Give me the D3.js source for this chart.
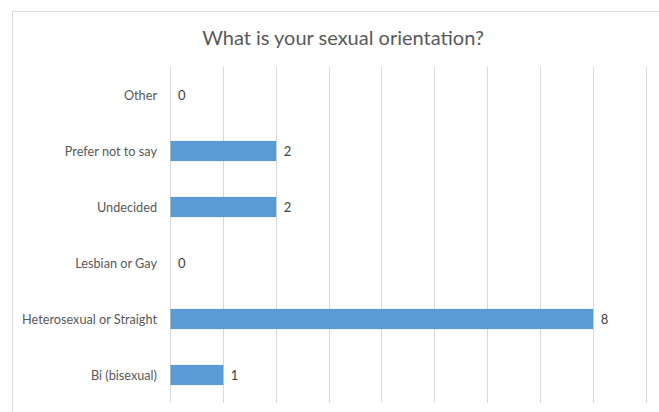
<!DOCTYPE html>
<html>
<head>
<meta charset="utf-8">
<script src="https://cdn.jsdelivr.net/npm/d3@7"></script>
<style>
  html, body { margin: 0; padding: 0; background: #fff; }
  svg { display: block; }
  text { font-family: Lato, "Open Sans", sans-serif; }
</style>
</head>
<body>
<svg id="chart" width="659" height="412"></svg>
<script>
// Survey responses, listed top to bottom as shown
const categories = ["Other", "Prefer not to say", "Undecided", "Lesbian or Gay", "Heterosexual or Straight", "Bi (bisexual)"];
const counts = [0, 2, 2, 0, 8, 1];
const xTicks = [0, 1, 2, 3, 4, 5, 6, 7, 8, 9];
const title = "What is your sexual orientation?";

const svg = d3.select("#chart");
const W = 659, H = 412;

// Chart frame
svg.append("rect")
  .attr("x", 12.5).attr("y", 11.5)
  .attr("width", W + 10).attr("height", H + 10)
  .attr("fill", "#fff").attr("stroke", "#d9d9d9").attr("stroke-width", 1);

const plot = { left: 170, right: 645.5, top: 67, bottom: 403 };

const x = d3.scaleLinear().domain([0, 9]).range([plot.left, plot.right]);
const y = d3.scaleBand().domain(categories).range([plot.top, plot.bottom]).paddingInner(0.64).paddingOuter(0.32);

// Vertical gridlines
svg.append("g")
  .selectAll("line")
  .data(xTicks)
  .join("line")
  .attr("x1", d => Math.round(x(d)) + 0.5).attr("x2", d => Math.round(x(d)) + 0.5)
  .attr("y1", plot.top).attr("y2", plot.bottom)
  .attr("stroke", "#d9d9d9").attr("stroke-width", 1);

// Bars
svg.append("g")
  .selectAll("rect")
  .data(categories)
  .join("rect")
  .attr("x", x(0) + 0.5)
  .attr("y", d => y(d))
  .attr("width", (d, i) => x(counts[i]) - x(0))
  .attr("height", y.bandwidth())
  .attr("fill", "#5b9bd5");

// Value labels
svg.append("g")
  .selectAll("text")
  .data(categories)
  .join("text")
  .attr("x", (d, i) => x(counts[i]) + 8)
  .attr("y", d => y(d) + y.bandwidth() / 2)
  .attr("dy", "0.36em")
  .attr("font-size", 13)
  .attr("fill", "#404040")
  .text((d, i) => counts[i]);

// Category axis labels
svg.append("g")
  .selectAll("text")
  .data(categories)
  .join("text")
  .attr("x", 157)
  .attr("y", d => y(d) + y.bandwidth() / 2)
  .attr("dy", "0.36em")
  .attr("text-anchor", "end")
  .attr("font-size", 12.7)
  .attr("fill", "#595959")
  .text(d => d);

// Title
svg.append("text")
  .attr("x", 343)
  .attr("y", 45)
  .attr("text-anchor", "middle")
  .attr("font-size", 20)
  .attr("fill", "#595959")
  .text(title);
</script>
</body>
</html>
